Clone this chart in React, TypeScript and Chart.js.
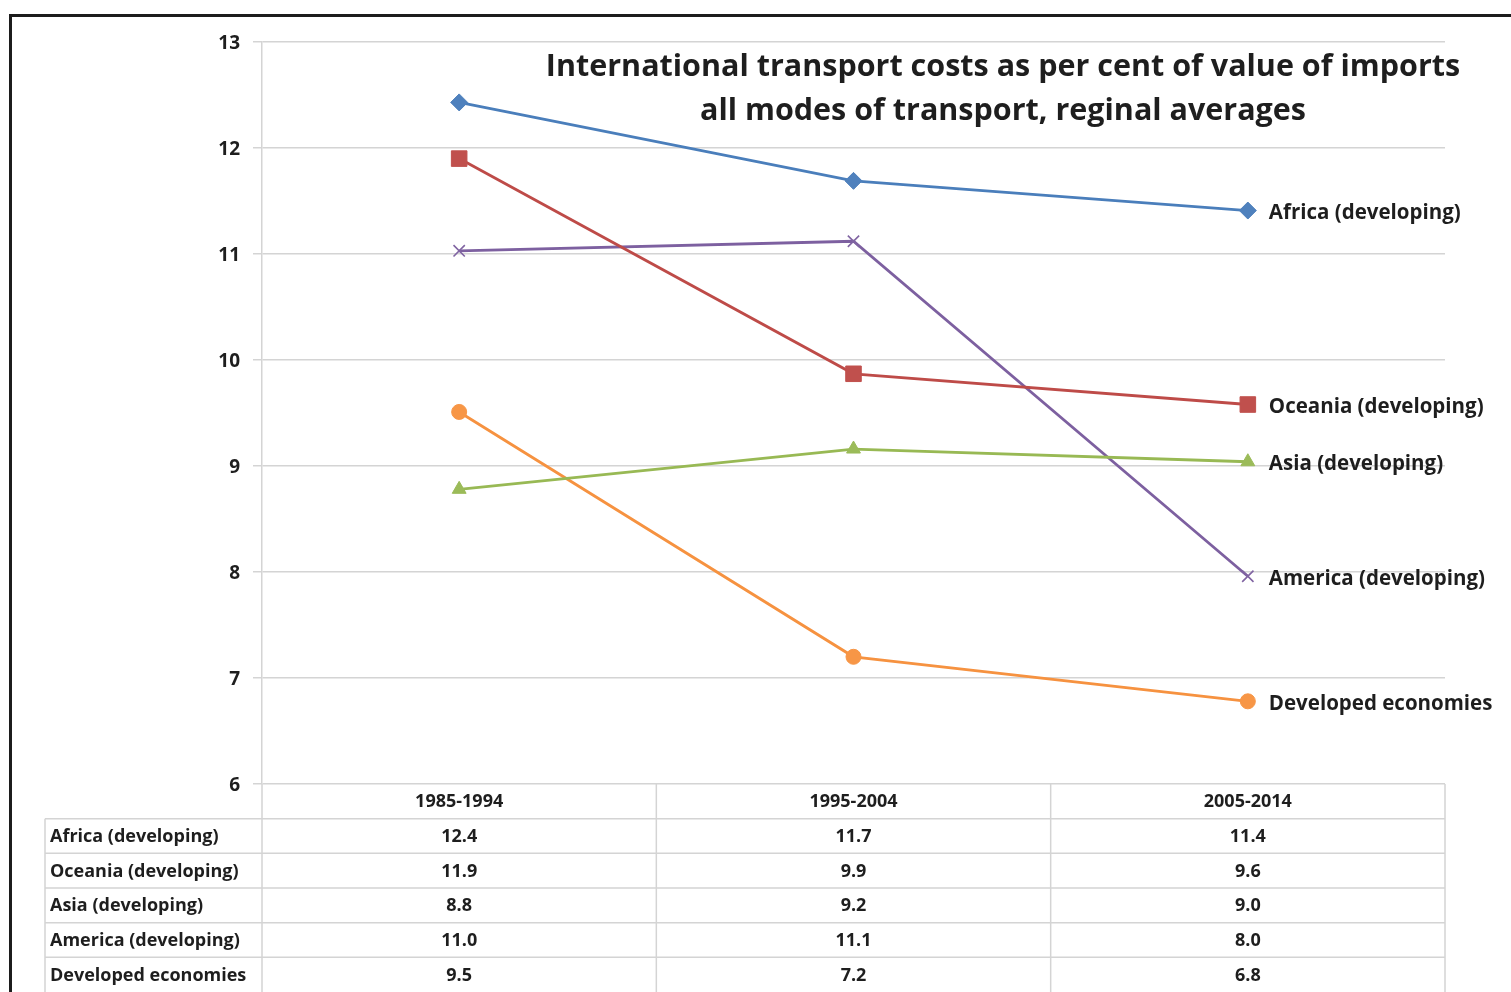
import { useEffect, useRef } from "react";
import { Chart, registerables } from "chart.js";

Chart.register(...registerables);

const categories = ["1985-1994", "1995-2004", "2005-2014"];
const seriesNames = [
  "Africa (developing)",
  "Oceania (developing)",
  "Asia (developing)",
  "America (developing)",
  "Developed economies",
];
const africa = [12.43, 11.69, 11.41];
const oceania = [11.9, 9.87, 9.58];
const asia = [8.78, 9.16, 9.04];
const america = [11.03, 11.12, 7.96];
const developed = [9.51, 7.2, 6.78];
const yTickMin = 6;
const yTickMax = 13;
const yTickStep = 1;
const titleLines = [
  "International transport costs as per cent of value of imports",
  "all modes of transport, reginal averages",
];

const lineColors = ["#4A7EBB", "#BE4B48", "#98B954", "#7D60A0", "#F69240"];
const markerColors = ["#4F81BD", "#C0504D", "#9BBB59", "#8064A2", "#F79646"];
const markerStyles = ["rectRot", "rect", "triangle", "crossRot", "circle"];
const markerRadii = [8.5, 11, 8, 8, 7.5];
const FONT = "'Open Sans', Lato, sans-serif";
const GRID = "#d4d4d4";
const TEXT = "#1e1e1e";

const overlayPlugin = {
  id: "overlay",
  beforeDraw(chart: any) {
    const ctx = chart.ctx;
    ctx.save();
    ctx.fillStyle = "#ffffff";
    ctx.fillRect(0, 0, chart.width, chart.height);
    ctx.fillStyle = "#1c1c1c";
    ctx.fillRect(9, 14, chart.width - 9, 3);
    ctx.fillRect(9, 14, 3, chart.height - 14);
    ctx.restore();
  },
  afterDraw(chart: any) {
    const ctx = chart.ctx;
    const area = chart.chartArea;
    const xs = chart.scales.x;
    ctx.save();

    // title
    ctx.fillStyle = TEXT;
    ctx.font = `bold 30.5px ${FONT}`;
    ctx.textAlign = "center";
    ctx.textBaseline = "middle";
    ctx.fillText(titleLines[0], 1003, 67);
    ctx.fillText(titleLines[1], 1003, 111);

    // series end labels
    ctx.font = `bold 20.5px ${FONT}`;
    ctx.textAlign = "left";
    chart.data.datasets.forEach((ds: any, i: number) => {
      const meta = chart.getDatasetMeta(i);
      const pt = meta.data[meta.data.length - 1];
      ctx.fillText(ds.label, pt.x + 21, pt.y + 2.5);
    });

    // data table
    const top = area.bottom;
    const rows = seriesNames.length + 1;
    const rowH = (chart.height - top) / rows;
    const band = xs.getPixelForValue(1) - xs.getPixelForValue(0);
    const labelLeft = 45;
    ctx.strokeStyle = GRID;
    ctx.lineWidth = 1.5;
    ctx.beginPath();
    for (let r = 1; r < rows; r++) {
      const y = top + r * rowH;
      ctx.moveTo(labelLeft, y);
      ctx.lineTo(area.right, y);
    }
    ctx.moveTo(labelLeft, top + rowH);
    ctx.lineTo(labelLeft, chart.height);
    ctx.moveTo(area.left, top);
    ctx.lineTo(area.left, chart.height);
    for (let c = 0; c < categories.length; c++) {
      const xr = xs.getPixelForValue(c) + band / 2;
      ctx.moveTo(xr, top);
      ctx.lineTo(xr, chart.height);
    }
    ctx.stroke();

    ctx.fillStyle = TEXT;
    ctx.font = `bold 18px ${FONT}`;
    ctx.textAlign = "center";
    categories.forEach((c, i) => {
      ctx.fillText(c, xs.getPixelForValue(i), top + rowH / 2 + 1);
    });
    chart.data.datasets.forEach((ds: any, r: number) => {
      const y = top + (r + 1) * rowH + rowH / 2 + 1;
      ctx.textAlign = "left";
      ctx.fillText(ds.label, labelLeft + 5, y);
      ctx.textAlign = "center";
      ds.data.forEach((v: number, i: number) => {
        ctx.fillText(v.toFixed(1), xs.getPixelForValue(i), y);
      });
    });
    ctx.restore();
  },
};

export default function App() {
  const canvasRef = useRef<HTMLCanvasElement | null>(null);

  useEffect(() => {
    const allSeries = [africa, oceania, asia, america, developed];
    const chart = new Chart(canvasRef.current as HTMLCanvasElement, {
      type: "line",
      data: {
        labels: categories,
        datasets: allSeries.map((d, i) => ({
          label: seriesNames[i],
          data: d,
          borderColor: lineColors[i],
          backgroundColor: markerColors[i],
          pointBorderColor: markerColors[i],
          pointBackgroundColor: markerColors[i],
          pointStyle: markerStyles[i] as any,
          pointRadius: markerRadii[i],
          pointBorderWidth: i === 3 ? 1.6 : 1,
          borderWidth: 2.8,
          tension: 0,
          fill: false,
        })),
      },
      options: {
        animation: false,
        responsive: true,
        maintainAspectRatio: false,
        layout: { padding: { left: 0, top: 42, right: 66, bottom: 208 } },
        plugins: {
          legend: { display: false },
          title: { display: false },
          tooltip: { enabled: false },
        },
        scales: {
          x: {
            type: "category",
            display: false,
            offset: true,
          },
          y: {
            min: yTickMin,
            max: yTickMax,
            afterFit(scale: any) {
              scale.width = 262;
            },
            ticks: {
              stepSize: yTickStep,
              padding: 13,
              labelOffset: 2,
              color: TEXT,
              font: { family: FONT, size: 19, weight: "bold" },
            },
            grid: {
              color: GRID,
              lineWidth: 1.5,
              tickLength: 9,
              tickColor: GRID,
            },
            border: { display: true, color: GRID, width: 1.5 },
          },
        },
      },
      plugins: [overlayPlugin],
    });
    return () => chart.destroy();
  }, []);

  return (
    <div style={{ position: "absolute", left: 0, top: 0, width: 1511, height: 992, background: "#fff" }}>
      <canvas ref={canvasRef} />
    </div>
  );
}
